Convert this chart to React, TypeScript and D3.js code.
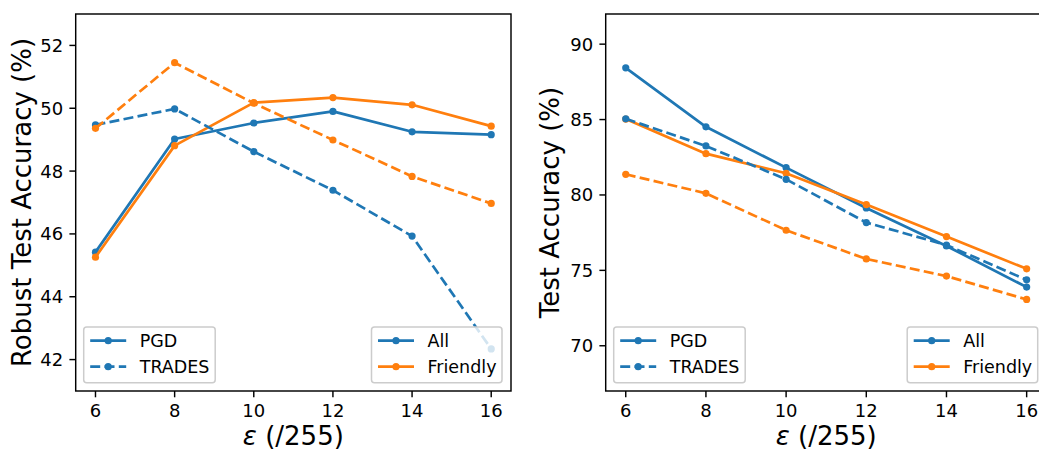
import React from "react";
import * as d3 from "d3";

const eps = [6, 8, 10, 12, 14, 16];

// Robust test accuracy (%)
const robustPgdAll = [45.42, 49.02, 49.53, 49.9, 49.25, 49.16];
const robustPgdFriendly = [45.26, 48.81, 50.18, 50.34, 50.11, 49.43];
const robustTradesAll = [49.47, 49.98, 48.62, 47.39, 45.93, 42.34];
const robustTradesFriendly = [49.36, 51.45, 50.16, 48.99, 47.83, 46.97];

// Clean test accuracy (%)
const cleanPgdAll = [88.43, 84.52, 81.81, 79.14, 76.62, 73.89];
const cleanPgdFriendly = [85.03, 82.74, 81.44, 79.36, 77.24, 75.1];
const cleanTradesAll = [85.05, 83.25, 81.04, 78.17, 76.68, 74.37];
const cleanTradesFriendly = [81.37, 80.11, 77.66, 75.76, 74.62, 73.07];

const xTicks = [6, 8, 10, 12, 14, 16];
const robustTicks = [42, 44, 46, 48, 50, 52];
const cleanTicks = [70, 75, 80, 85, 90];

const BLUE = "#1f77b4";
const ORANGE = "#ff7f0e";
const FONT = "DejaVu Sans, sans-serif";
const LW = 2.7;
const DASH = "10,4.3";

type Series = { values: number[]; color: string; dashed: boolean };

function Panel(props: {
  x0: number;
  x1: number;
  y0: number;
  y1: number;
  yDomain: [number, number];
  yTicks: number[];
  yLabel: string;
  yLabelX: number;
  series: Series[];
  clipId: string;
}) {
  const { x0, x1, y0, y1, yDomain, yTicks, yLabel, yLabelX, series, clipId } = props;
  const x = d3.scaleLinear().domain([5.5, 16.5]).range([x0, x1]);
  const y = d3.scaleLinear().domain(yDomain).range([y1, y0]);
  const line = d3
    .line<number>()
    .x((_, i) => x(eps[i]))
    .y((v) => y(v));
  const tickLen = 6.3;
  const spine = 1.45;

  const legend = (bx: number, w: number, entries: { label: string; color: string; dashed: boolean }[]) => {
    const top = y1 - 64;
    const h = 55.7;
    return (
      <g>
        <rect x={bx} y={top} width={w} height={h} rx={3} fill="white" fillOpacity={0.8} stroke="#cccccc" strokeWidth={1.5} />
        {entries.map((e, i) => {
          const cy = top + 13.7 + i * 26;
          return (
            <g key={e.label}>
              <line
                x1={bx + 6.5}
                x2={bx + 42.5}
                y1={cy}
                y2={cy}
                stroke={e.color}
                strokeWidth={LW}
                strokeDasharray={e.dashed ? DASH : undefined}
              />
              <circle cx={bx + 24.5} cy={cy} r={3.6} fill={e.color} />
              <text x={bx + 56} y={cy} dy="0.36em" fontSize={17.5} fontFamily={FONT} fill="#000">
                {e.label}
              </text>
            </g>
          );
        })}
      </g>
    );
  };

  return (
    <g>
      <defs>
        <clipPath id={clipId}>
          <rect x={x0} y={y0} width={x1 - x0} height={y1 - y0} />
        </clipPath>
      </defs>
      <g clipPath={`url(#${clipId})`}>
        {series.map((s, i) => (
          <g key={i}>
            <path
              d={line(s.values) || ""}
              fill="none"
              stroke={s.color}
              strokeWidth={LW}
              strokeLinejoin="round"
              strokeDasharray={s.dashed ? DASH : undefined}
            />
            {s.values.map((v, j) => (
              <circle key={j} cx={x(eps[j])} cy={y(v)} r={3.6} fill={s.color} />
            ))}
          </g>
        ))}
      </g>
      {legend(x0 + 8, 131.5, [
        { label: "PGD", color: BLUE, dashed: false },
        { label: "TRADES", color: BLUE, dashed: true },
      ])}
      {legend(Math.min(x1, 1048) - 9 - 130.5, 130.5, [
        { label: "All", color: BLUE, dashed: false },
        { label: "Friendly", color: ORANGE, dashed: false },
      ])}
      <rect x={x0} y={y0} width={x1 - x0} height={y1 - y0} fill="none" stroke="#000" strokeWidth={spine} />
      {xTicks.map((t) => (
        <g key={t}>
          <line x1={x(t)} x2={x(t)} y1={y1} y2={y1 + tickLen} stroke="#000" strokeWidth={spine} />
          <text x={x(t)} y={y1 + tickLen + 6.3} dy="0.76em" textAnchor="middle" fontSize={18} fontFamily={FONT} fill="#000">
            {t}
          </text>
        </g>
      ))}
      {yTicks.map((t) => (
        <g key={t}>
          <line x1={x0 - tickLen} x2={x0} y1={y(t)} y2={y(t)} stroke="#000" strokeWidth={spine} />
          <text x={x0 - tickLen - 6.3} y={y(t)} dy="0.36em" textAnchor="end" fontSize={18} fontFamily={FONT} fill="#000">
            {t}
          </text>
        </g>
      ))}
      <text
        transform={`translate(${yLabelX},${(y0 + y1) / 2}) rotate(-90)`}
        textAnchor="middle"
        fontSize={26}
        fontFamily={FONT}
        fill="#000"
      >
        {yLabel}
      </text>
      <text x={(x0 + x1) / 2} y={445} textAnchor="middle" fontSize={26} fontFamily={FONT} fill="#000">
        <tspan fontStyle="italic">ε</tspan> (/255)
      </text>
    </g>
  );
}

export default function App() {
  return (
    <div style={{ position: "fixed", left: 0, top: 0 }}>
      <svg width={1039} height={449} style={{ display: "block", background: "white" }}>
        <Panel
          x0={75.7}
          x1={511}
          y0={14}
          y1={391}
          yDomain={[41, 53]}
          yTicks={robustTicks}
          yLabel="Robust Test Accuracy (%)"
          yLabelX={31}
          clipId="clipL"
          series={[
            { values: robustPgdAll, color: BLUE, dashed: false },
            { values: robustPgdFriendly, color: ORANGE, dashed: false },
            { values: robustTradesAll, color: BLUE, dashed: true },
            { values: robustTradesFriendly, color: ORANGE, dashed: true },
          ]}
        />
        <Panel
          x0={605.7}
          x1={1046.7}
          y0={14}
          y1={391}
          yDomain={[67, 92]}
          yTicks={cleanTicks}
          yLabel="Test Accuracy (%)"
          yLabelX={559}
          clipId="clipR"
          series={[
            { values: cleanPgdAll, color: BLUE, dashed: false },
            { values: cleanPgdFriendly, color: ORANGE, dashed: false },
            { values: cleanTradesAll, color: BLUE, dashed: true },
            { values: cleanTradesFriendly, color: ORANGE, dashed: true },
          ]}
        />
      </svg>
    </div>
  );
}
